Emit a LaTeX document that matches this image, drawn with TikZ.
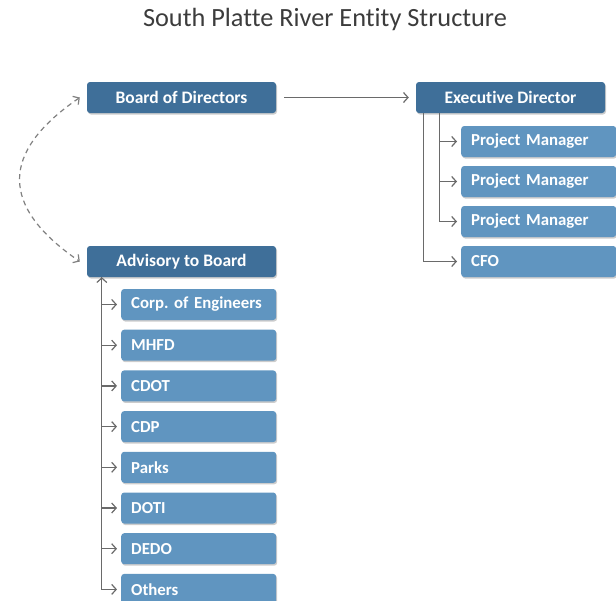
\documentclass[tikz,border=0pt]{standalone}
\usepackage{fontspec}
\setmainfont{Carlito}[Ligatures=NoCommon]
\usetikzlibrary{arrows.meta,shadows}
\definecolor{headblue}{HTML}{3F6F99}
\definecolor{subblue}{HTML}{6095C0}
\definecolor{linegray}{HTML}{6A6A6A}
\definecolor{titlegray}{HTML}{3C3C3C}
\frenchspacing

\begin{document}
\begin{tikzpicture}[x=1pt,y=-1pt,
    headbox/.style={fill=headblue,rounded corners=3pt,minimum width=189pt,minimum height=31pt,
      text=white,font=\bfseries\fontsize{17.5}{19}\selectfont,
      drop shadow={shadow xshift=1pt,shadow yshift=-1.5pt,opacity=0.2,fill=black}},
    subbox/.style={fill=subblue,rounded corners=3pt,minimum height=31pt,text width=135pt,
      inner xsep=10pt,align=left,anchor=west,text=white,font=\bfseries\fontsize{16.8}{18}\selectfont,
      drop shadow={shadow xshift=1pt,shadow yshift=-1.5pt,opacity=0.2,fill=black}},
    link/.style={draw=linegray,line width=1.2pt,-{Straight Barb[length=4.5pt,width=10pt]}},
    duallink/.style={draw=linegray!85,line width=1.2pt,dash pattern=on 5pt off 4pt,
      {Straight Barb[length=4.5pt,width=10pt]}-{Straight Barb[length=4.5pt,width=10pt]}}]
                    \useasboundingbox (0,0) rectangle (616,600);
                    \node[font=\fontsize{26.3}{30}\selectfont,text=titlegray] (title) at (325,19) {South Platte River Entity Structure};
                    % top row
                    \node[headbox] (board) at (181.5,97.5) {Board of Directors};
                    \node[headbox] (exec) at (510.5,97.5) {Executive Director};
                    \node[headbox] (adv) at (181.5,261.5) {Advisory to Board};
                    \draw[link,shorten <=8pt,shorten >=7pt] (board) -- (exec);
                    % executive side
                    \node[subbox] (pm1) at (461,141.5) {Project Manager};
                    \node[subbox] (pm2) at (461,181.5) {Project Manager};
                    \node[subbox] (pm3) at (461,221.5) {Project Manager};
                    \node[subbox] (cfo) at (461,261.5) {CFO};
                    \foreach \n in {pm1,pm2,pm3}
                        \draw[link,shorten >=4pt] ([xshift=24pt]exec.south west) |- (\n);
                    \draw[link,shorten >=4pt] ([xshift=8pt]exec.south west) |- (cfo);
                    % advisory side
                    \coordinate (advfoot) at ([xshift=15pt]adv.south west);
                    \foreach \i/\n/\t in {0/corps/Corp. of Engineers,1/mhfd/MHFD,2/cdot/CDOT,3/cdp/CDP,
                                          4/parks/Parks,5/doti/DOTI,6/dedo/DEDO,7/others/Others}{
                        \node[subbox] (\n) at (121,304.5+40.7*\i) {\mbox{\t}};
                        \draw[link,shorten >=4pt] (advfoot) |- (\n);
                    }
                    \draw[link] (advfoot |- others.west) -- (advfoot);
                    \draw[duallink] ([xshift=-7pt]board.west) .. controls +(-80,55) and +(-80,-55) .. ([xshift=-7pt]adv.west);
                \end{tikzpicture}
\end{document}
